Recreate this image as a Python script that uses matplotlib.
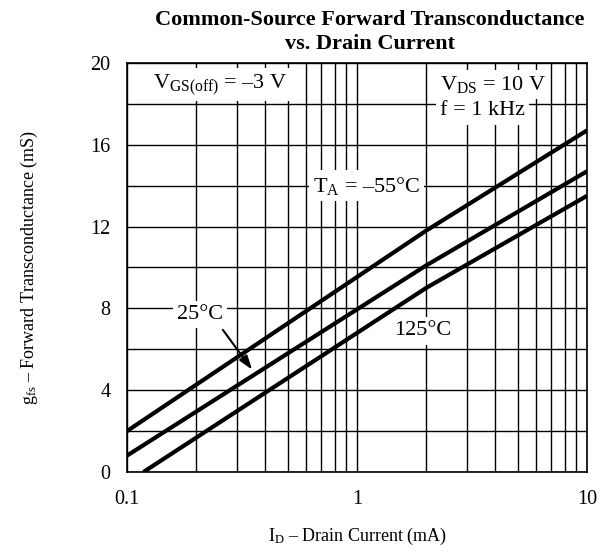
import numpy as np
import matplotlib.pyplot as plt
from matplotlib.ticker import FixedLocator, NullFormatter

plt.rcParams['font.family'] = ['Liberation Serif', 'DejaVu Serif']
plt.rcParams['mathtext.fontset'] = 'custom'
plt.rcParams['mathtext.rm'] = 'Liberation Serif'
plt.rcParams['mathtext.it'] = 'Liberation Serif:italic'

# Drain current (mA) break points
id_m55 = [0.1, 2.0, 10.0]
gfs_m55 = [2.0, 11.8, 16.7]

id_25 = [0.1, 2.0, 10.0]
gfs_25 = [0.8, 10.1, 14.7]

id_125 = [0.118, 2.0, 10.0]
gfs_125 = [0.0, 9.0, 13.5]

xticks = [0.1, 1, 10]
xtick_labels = ['0.1', '1', '10']
yticks = [0, 4, 8, 12, 16, 20]

fig = plt.figure(figsize=(6.02, 5.52), dpi=100)
ax = fig.add_axes([0.211, 0.145, 0.764, 0.741])

for x, y in [(id_m55, gfs_m55), (id_25, gfs_25), (id_125, gfs_125)]:
    ax.plot(x, y, color='black', lw=3.0, solid_capstyle='butt', zorder=3)

ax.set_xscale('log')
ax.set_xlim(0.1, 10)
ax.set_ylim(0, 20)
ax.set_xticks(xticks)
ax.set_xticklabels(xtick_labels)
ax.xaxis.set_minor_locator(FixedLocator([m * d for d in (0.1, 1) for m in range(2, 10)]))
ax.xaxis.set_minor_formatter(NullFormatter())
ax.set_yticks(yticks)
ax.yaxis.set_minor_locator(FixedLocator([2, 6, 10, 14, 18]))
ax.grid(True, which='both', color='black', lw=1.0)
ax.tick_params(which='both', length=0, labelsize=14.5)
ax.tick_params(axis='x', pad=13)
ax.tick_params(axis='y', pad=12)
for s in ax.spines.values():
    s.set_linewidth(1.2)

fs = 16
box = dict(facecolor='white', edgecolor='none', pad=3)
ax.text(0.13, 18.95, 'V$_{\\mathrm{GS(off)}}$ = \u20133 V', fontsize=fs, va='center', ha='left',
        bbox=box, zorder=4)
ax.text(2.3, 18.95, 'V$_{\\mathrm{DS}}$ = 10 V', fontsize=fs, va='center', ha='left',
        bbox=box, zorder=4)
ax.text(2.3, 17.65, 'f = 1 kHz', fontsize=fs, va='center', ha='left', bbox=box, zorder=4)
ax.text(1.1, 14.0, 'T$_{\\mathrm{A}}$ = \u201355\u00b0C', fontsize=fs, va='center', ha='center',
        bbox=box, zorder=4)
ax.text(0.208, 7.7, '25\u00b0C', fontsize=fs, va='center', ha='center', bbox=box, zorder=4)
ax.text(1.94, 6.9, '125\u00b0C', fontsize=fs, va='center', ha='center', bbox=box, zorder=4)
ax.annotate('', xy=(0.35, 5.0), xytext=(0.261, 6.95),
            arrowprops=dict(arrowstyle='-|>,head_length=0.6,head_width=0.2', color='black',
                            lw=1.5, mutation_scale=14, shrinkA=0, shrinkB=0), zorder=4)

fig.text(370 / 602, 1 - 32 / 552, 'Common-Source Forward Transconductance\nvs. Drain Current',
         fontsize=16, fontweight='bold', ha='center', va='center', linespacing=1.25)
ax.set_xlabel('I$_{\\mathrm{D}}$ \u2013 Drain Current (mA)', fontsize=13, labelpad=12)
ax.set_ylabel('g$_{\\mathrm{fs}}$ \u2013 Forward Transconductance (mS)', fontsize=13, labelpad=36)

fig.savefig('out.png', dpi=100)
